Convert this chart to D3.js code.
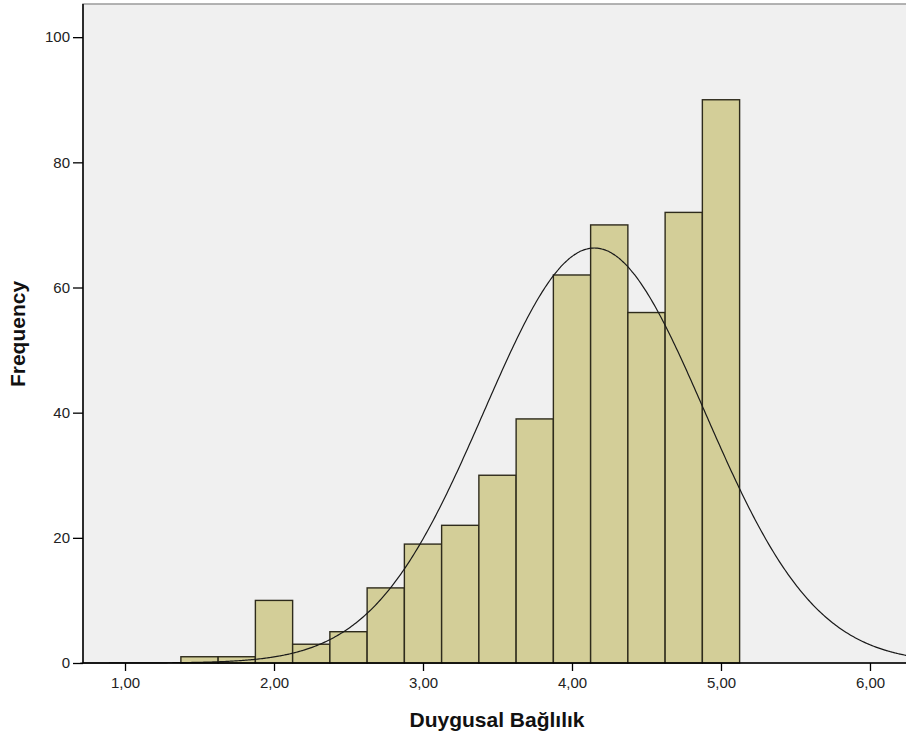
<!DOCTYPE html>
<html>
<head>
<meta charset="utf-8">
<script src="https://cdn.jsdelivr.net/npm/d3@7"></script>
<style>
  html, body { margin: 0; padding: 0; background: #ffffff; }
  svg { display: block; font-family: "Liberation Sans", Arial, sans-serif; }
</style>
</head>
<body>
<svg id="chart" width="906" height="740"></svg>
<script>
// Histogram bins: centre of each bin and its frequency
const binCenters = [1.5, 1.75, 2.0, 2.25, 2.5, 2.75, 3.0, 3.25, 3.5, 3.75, 4.0, 4.25, 4.5, 4.75, 5.0];
const frequencies = [1, 1, 10, 3, 5, 12, 19, 22, 30, 39, 62, 70, 56, 72, 90];
const binWidth = 0.25;

// Normal curve parameters
const curveMean = 4.15;
const curveSd = 0.74;
const sampleN = 492;

// Tick values and labels
const xTicks = [1, 2, 3, 4, 5, 6];
const xTickLabels = ["1,00", "2,00", "3,00", "4,00", "5,00", "6,00"];
const yTicks = [0, 20, 40, 60, 80, 100];

const svg = d3.select("#chart");
const plot = { left: 83, top: 4, right: 912, bottom: 663 };

const x = d3.scaleLinear().domain([0.718, 6.282]).range([plot.left, plot.right]);
const y = d3.scaleLinear().domain([0, 105.3]).range([plot.bottom, plot.top]);

// plot background and frame
svg.append("rect")
  .attr("x", plot.left).attr("y", plot.top)
  .attr("width", plot.right - plot.left).attr("height", plot.bottom - plot.top)
  .attr("fill", "#f0f0f0")
  .attr("stroke", "#9a9a9a").attr("stroke-width", 1.5);

// bars
svg.append("g").selectAll("rect")
  .data(binCenters.map((c, i) => ({ c, f: frequencies[i] })))
  .join("rect")
  .attr("x", d => x(d.c - binWidth / 2))
  .attr("y", d => y(d.f))
  .attr("width", d => x(d.c + binWidth / 2) - x(d.c - binWidth / 2))
  .attr("height", d => y(0) - y(d.f))
  .attr("fill", "#d3ce98")
  .attr("stroke", "#2e2b1c")
  .attr("stroke-width", 1.4);

// normal curve
const pts = d3.range(0.7, 6.3, 0.01).map(v => {
  const z = (v - curveMean) / curveSd;
  return [v, sampleN * binWidth / (curveSd * Math.sqrt(2 * Math.PI)) * Math.exp(-0.5 * z * z)];
});
svg.append("path")
  .datum(pts)
  .attr("fill", "none")
  .attr("stroke", "#1a1a1a")
  .attr("stroke-width", 1.2)
  .attr("d", d3.line().x(d => x(d[0])).y(d => y(d[1])).curve(d3.curveBasis));

// axes
const xAxis = d3.axisBottom(x).tickValues(xTicks)
  .tickFormat((d, i) => xTickLabels[i]).tickSizeOuter(0).tickSize(8).tickPadding(6);
const gx = svg.append("g").attr("transform", `translate(0,${plot.bottom})`).call(xAxis);
gx.select(".domain").remove();
svg.append("line")
  .attr("x1", plot.left).attr("x2", plot.right)
  .attr("y1", plot.bottom).attr("y2", plot.bottom)
  .attr("stroke", "#000").attr("stroke-width", 1.5);

const yAxis = d3.axisLeft(y).tickValues(yTicks).tickSizeOuter(0).tickSize(10).tickPadding(3);
const gy = svg.append("g").attr("transform", `translate(${plot.left},0)`).call(yAxis);
gy.select(".domain").remove();
svg.append("line")
  .attr("x1", plot.left).attr("x2", plot.left)
  .attr("y1", plot.top).attr("y2", plot.bottom)
  .attr("stroke", "#000").attr("stroke-width", 1.5);

[gx, gy].forEach(g => {
  g.selectAll(".tick line").attr("stroke", "#000").attr("stroke-width", 1.3);
  g.selectAll(".tick text").attr("fill", "#222").style("font-size", "15px")
    .style("font-family", "'Liberation Sans', Arial, sans-serif");
});

// axis titles
svg.append("text")
  .attr("x", 497).attr("y", 727)
  .attr("text-anchor", "middle")
  .style("font-size", "21px").style("font-weight", "bold").attr("fill", "#111")
  .text("Duygusal Bağlılık");

svg.append("text")
  .attr("transform", "translate(25,334) rotate(-90)")
  .attr("text-anchor", "middle")
  .style("font-size", "21px").style("font-weight", "bold").attr("fill", "#111")
  .text("Frequency");
</script>
</body>
</html>
